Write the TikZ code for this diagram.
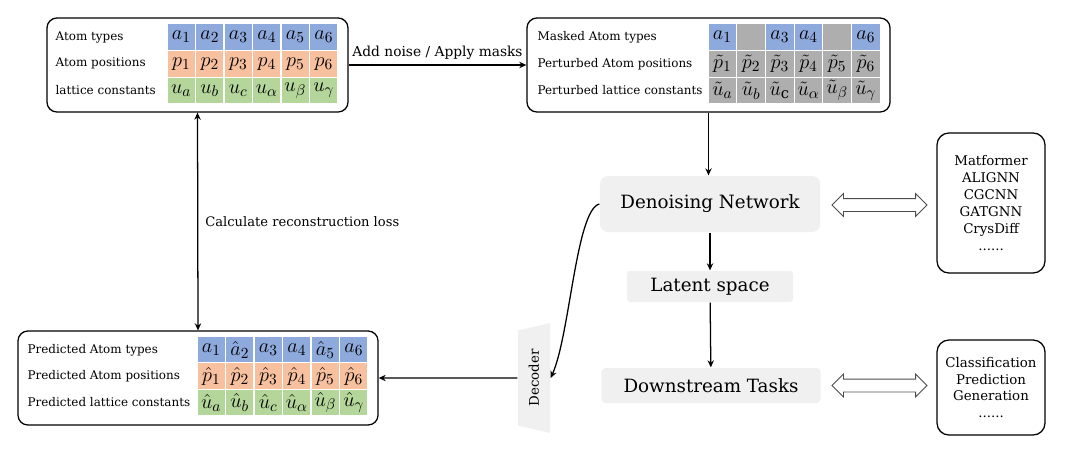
\documentclass[tikz,border=0pt]{standalone}
\usepackage{amsmath,amssymb}
\usepackage{fontspec}
\setmainfont{DejaVu Serif}
\usetikzlibrary{arrows.meta,shapes.geometric,shapes.arrows}
\definecolor{atomblue}{HTML}{8EA9DB}
\definecolor{posorange}{HTML}{F7C09E}
\definecolor{latgreen}{HTML}{B4D69A}
\definecolor{maskgray}{HTML}{AEAEAE}
\definecolor{boxgray}{HTML}{F0F0F0}
\tikzset{
	cell/.style={minimum width=0.715cm,minimum height=0.67cm,inner sep=0pt,draw=white,line width=0.8pt,font=\fontsize{15}{17}\selectfont},
	rowlab/.style={anchor=west,inner sep=0pt,font=\fontsize{8.5}{10}\selectfont},
	panel/.style={draw,rounded corners=0.25cm,line width=0.9pt,minimum height=2.35cm},
	stage/.style={fill=boxgray,font=\fontsize{13}{15}\selectfont},
	listbox/.style={draw,rounded corners=0.3cm,line width=0.9pt,align=center,minimum width=2.7cm,font=\fontsize{9.5}{12}\selectfont},
	twoway/.style={double arrow,draw=black!70,line width=0.6pt,inner xsep=0pt,inner ysep=0.15cm,minimum width=1pt,double arrow head extend=0.125cm,minimum height=2.375cm}
}

\begin{document}
\begin{tikzpicture}[x=0.025cm,y=-0.025cm,>={Stealth[length=5pt,width=4.5pt]},line width=0.9pt]
	\useasboundingbox (0,0) rectangle (1070,450);
	% input crystal
	\node [panel,minimum width=7.525cm] (b1) at (197.5,65) {};
	\node [rowlab] (l11) at (55,37) {Atom types};
	\node [rowlab] (l12) at (55,63.75) {Atom positions};
	\node [rowlab] (l13) at (55,90.5) {lattice constants};
	\foreach \t [count=\i from 0] in {a_1,a_2,a_3,a_4,a_5,a_6}
		\node [cell,fill=atomblue] (ta\i) at ({181.25+28.5*\i},37) {$\t$};
	\foreach \t [count=\i from 0] in {p_1,p_2,p_3,p_4,p_5,p_6}
		\node [cell,fill=posorange] (tp\i) at ({181.25+28.5*\i},63.75) {$\t$};
	\foreach \t [count=\i from 0] in {u_a,u_b,u_c,u_\alpha,u_\beta,u_\gamma}
		\node [cell,fill=latgreen] (tu\i) at ({181.25+28.5*\i},90.5) {$\t$};
	% masked / perturbed crystal
	\node [panel,minimum width=9.075cm] (b2) at (708.5,65) {};
	\node [rowlab] (l21) at (537,37) {Masked Atom types};
	\node [rowlab] (l22) at (537,63.75) {Perturbed Atom positions};
	\node [rowlab] (l23) at (537,90.5) {Perturbed lattice constants};
	\foreach \t/\c [count=\i from 0] in {$a_1$/atomblue,{}/maskgray,$a_3$/atomblue,$a_4$/atomblue,{}/maskgray,$a_6$/atomblue}
		\node [cell,fill=\c] (ma\i) at ({722.35+28.7*\i},37) {\t};
	\foreach \t [count=\i from 0] in {\tilde p_1,\tilde p_2,\tilde p_3,\tilde p_4,\tilde p_5,\tilde p_6}
		\node [cell,fill=maskgray] (mp\i) at ({722.35+28.7*\i},63.75) {$\t$};
	\foreach \t [count=\i from 0] in {\tilde u_a,\tilde u_b,\tilde u_{\mathrm{c}},\tilde u_\alpha,\tilde u_\beta,\tilde u_\gamma}
		\node [cell,fill=maskgray] (mu\i) at ({722.35+28.7*\i},90.5) {$\t$};
	% predicted crystal
	\node [panel,minimum width=9cm] (b3) at (198,378) {};
	\node [rowlab] (l31) at (27,350) {Predicted Atom types};
	\node [rowlab] (l32) at (27,376.25) {Predicted Atom positions};
	\node [rowlab] (l33) at (27,402.5) {Predicted lattice constants};
	\foreach \t [count=\i from 0] in {a_1,\hat a_2,a_3,a_4,\hat a_5,a_6}
		\node [cell,fill=atomblue] (pa\i) at ({211.25+28.5*\i},350) {$\t$};
	\foreach \t [count=\i from 0] in {\hat p_1,\hat p_2,\hat p_3,\hat p_4,\hat p_5,\hat p_6}
		\node [cell,fill=posorange] (pp\i) at ({211.25+28.5*\i},376.25) {$\t$};
	\foreach \t [count=\i from 0] in {\hat u_a,\hat u_b,\hat u_c,\hat u_\alpha,\hat u_\beta,\hat u_\gamma}
		\node [cell,fill=latgreen] (pu\i) at ({211.25+28.5*\i},402.5) {$\t$};
	% network
	\node [stage,rounded corners=0.2cm,minimum width=5.5cm,minimum height=1.4cm] (den) at (710,204) {Denoising Network};
	\node [stage,rounded corners=0.075cm,minimum width=4.15cm,minimum height=0.775cm] (lat) at (710,286.5) {Latent space};
	\node [stage,rounded corners=0.1cm,minimum width=5.475cm,minimum height=0.875cm] (down) at (711,385.5) {Downstream Tasks};
	\node [trapezium,rotate=90,trapezium angle=54,trapezium stretches body,minimum width=2.75cm,minimum height=0.8cm,inner sep=0pt,fill=boxgray,font=\fontsize{9.5}{11}\selectfont] (dec) at (534,378) {Decoder};
	% side lists
	\node [listbox,minimum height=3.5cm] (models) at (991,203) {Matformer\\ALIGNN\\CGCNN\\GATGNN\\CrysDiff\\......};
	\node [listbox,minimum height=2.375cm] (tasks) at (991,387.5) {Classification\\Prediction\\Generation\\......};
	\node [twoway] (dm) at (879.5,205) {};
	\node [twoway] (dt) at (879.5,385.5) {};
	% connectors
	\draw [->] (b1.east) -- node [above,font=\fontsize{9.8}{11}\selectfont] (addlab) {Add noise / Apply masks} (b2.west);
	\draw [<->] (b1.south) -- node [right,inner sep=5pt,font=\fontsize{9.3}{11}\selectfont] (losslab) {Calculate reconstruction loss} (b3.north);
	\draw [->] (b2.south) -- (b2.south |- den.north);
	\draw [->] (den) -- (lat);
	\draw [->] (lat) -- (down);
	\draw [->] (den.west) .. controls (576,210) and (570,335) .. (dec.south);
	\draw [->] (dec.north) -- (b3.east);
\end{tikzpicture}
\end{document}
